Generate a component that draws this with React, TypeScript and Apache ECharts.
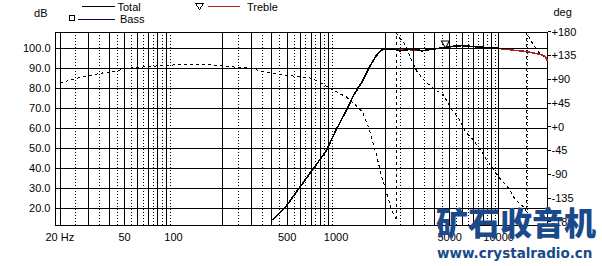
import React, { useEffect, useRef } from 'react';
import * as echarts from 'echarts';

// ---- Data ----
const TOTAL_FREQ = [406, 491, 593, 716, 865, 1000, 1147, 1289, 1450, 1594, 1753, 1880, 1969, 2150, 2322, 2450, 2600, 2805, 3100, 3384, 3700, 4081, 4710, 5151, 5930, 7529, 9530, 10000];
const TOTAL_DB = [14.2, 20.8, 30, 39.2, 48.3, 59, 68.3, 76.7, 83.3, 90, 95.8, 98.6, 99.6, 99.5, 99.2, 98.6, 98.8, 99.2, 99.3, 98.6, 99.1, 99.6, 100.3, 100.8, 101.2, 100.5, 100.0, 99.9];

const TREBLE_FREQ = [1969, 2322, 2805, 3384, 4081, 4710, 5930, 7529, 9530, 11500, 14600, 17600, 19300, 20000];
const TREBLE_DB = [99.6, 99.2, 99.2, 98.6, 99.6, 100.3, 101.2, 100.5, 100.0, 99.2, 98.3, 97.0, 96.0, 93.5];
const TREBLE_MARK_INDEX = 5;

const BASS_FREQ: number[] = [];
const BASS_DB: number[] = [];

const PHASE_FREQ = [20, 23, 27.7, 35.2, 44.7, 51.5, 61.8, 82, 120, 173, 221, 301, 352, 447, 593, 712, 820, 881, 1000, 1152, 1321, 1450, 1593, 1752, 1923, 2064, 2215, 2323, 2350, 2356, 2400, 2678, 2873, 3154, 3551, 4089, 4600, 5058, 5689, 6250, 6861, 7728, 8441, 10000, 11510, 12650, 14580, 14850, 14900, 15940, 17590, 18900, 20000];
const PHASE_DEG = [82, 88.5, 94.7, 101, 105.5, 110.6, 112.5, 115.6, 118.2, 117, 113.7, 110.6, 104, 99, 94.7, 91.7, 82, 75.8, 66.3, 56.8, 41, 28.4, -3, -47.4, -97.8, -129.5, -161, -173.6, -178, 178, 172, 154.8, 129.6, 104, 85.3, 69.5, 60, 35.4, 16, -9.5, -22, -44, -63, -94.8, -116, -138, -155, -162, 178, 161, 142, 132.6, 128];

const X_LABELS = [20, 50, 100, 500, 1000, 5000, 10000];
const DB_TICKS = [20, 30, 40, 50, 60, 70, 80, 90, 100];
const LEGEND_NAMES = ['Total', 'Bass', 'Treble'];

// grid line frequencies: solid at 2..9 x decade, dotted at half steps
const MAJOR_FREQ: number[] = [];
const MINOR_FREQ: number[] = [];
[10, 100, 1000].forEach((d) => {
  for (let m = 2; m <= 9; m++) MAJOR_FREQ.push(m * d);
  for (let m = 2; m <= 9; m++) MINOR_FREQ.push((m + 0.5) * d);
});
MAJOR_FREQ.push(10000);
MINOR_FREQ.push(15000);

const COLORS = { total: '#000000', bass: '#000080', treble: '#b02020', mark: '#1a4a8a' };

const zip = (a: number[], b: number[]) => a.map((v, i) => [v, b[i]]);

export default function App() {
  const ref = useRef<HTMLDivElement>(null);
  useEffect(() => {
    if (!ref.current) return;
    const chart = echarts.init(ref.current, undefined, { renderer: 'svg' });
    const FONT = 'Liberation Sans, Arial, sans-serif';
    const solid = { type: 'solid', color: '#000', width: 1 };
    const dotted = { type: [1, 2], color: '#000', width: 1 };
    const gridLines = [
      ...MAJOR_FREQ.map((f) => ({ xAxis: f, lineStyle: solid })),
      ...MINOR_FREQ.map((f) => ({ xAxis: f, lineStyle: dotted })),
      ...DB_TICKS.map((v) => ({ yAxis: v, lineStyle: solid })),
    ];
    const legText = (text: string, x: number, y: number) => ({
      type: 'text', x, y, silent: true,
      style: { text, fill: '#000', fontSize: 11, fontFamily: FONT, verticalAlign: 'middle', align: 'left' },
    });
    const legLine = (x1: number, x2: number, y: number, color: string) => ({
      type: 'line', silent: true, shape: { x1, y1: y, x2, y2: y }, style: { stroke: color, lineWidth: 1 },
    });
    const option: any = {
      animation: false,
      backgroundColor: '#fff',
      textStyle: { fontFamily: FONT, fontSize: 11, color: '#000' },
      grid: [
        { left: 55.5, width: 492, top: 32, height: 193.3, show: true, borderColor: '#000', borderWidth: 1, backgroundColor: '#fff' },
        { left: 55.5, width: 492, top: 31.7, height: 190, show: false },
      ],
      xAxis: [
        {
          type: 'log', gridIndex: 0, logBase: 10, min: 18.8, max: 20000,
          axisLine: { show: false }, axisTick: { show: false }, splitLine: { show: false },
          axisLabel: {
            customValues: X_LABELS, margin: 6, color: '#000', fontSize: 11, fontFamily: FONT,
            formatter: (v: number) => { const r = Math.round(v); return r === 20 ? '20 Hz' : String(r); },
          },
        },
        { type: 'log', gridIndex: 1, logBase: 10, min: 18.8, max: 20000, show: false },
      ],
      yAxis: [
        {
          type: 'value', gridIndex: 0, min: 11.5, max: 108,
          name: 'dB', nameLocation: 'end', nameGap: 19,
          nameTextStyle: { align: 'right', verticalAlign: 'middle', padding: [0, 8, 0, 0], color: '#000', fontSize: 11, fontFamily: FONT },
          axisLine: { show: false }, axisTick: { show: false }, splitLine: { show: false },
          axisLabel: { customValues: DB_TICKS, margin: 5, color: '#000', fontSize: 11, fontFamily: FONT, formatter: (v: number) => v.toFixed(1) },
        },
        {
          type: 'value', gridIndex: 1, position: 'right', min: -180, max: 180, interval: 45,
          name: 'deg', nameLocation: 'end', nameGap: 20,
          nameTextStyle: { align: 'left', verticalAlign: 'middle', padding: [0, 0, 0, 6], color: '#000', fontSize: 11, fontFamily: FONT },
          axisLine: { show: false }, axisTick: { show: true, length: 3, lineStyle: { color: '#000' } }, splitLine: { show: false },
          axisLabel: { margin: 4, color: '#000', fontSize: 11, fontFamily: FONT, formatter: (v: number) => (v >= 0 ? '+' + v : String(v)) },
        },
      ],
      series: [
        {
          name: '_grid', type: 'line', xAxisIndex: 0, yAxisIndex: 0, z: 1, silent: true,
          data: [[1000, 50]], symbol: 'none', lineStyle: { opacity: 0 },
          markLine: { silent: true, symbol: ['none', 'none'], label: { show: false }, lineStyle: solid, emphasis: { disabled: true }, data: gridLines },
        },
        {
          name: 'Phase', type: 'line', xAxisIndex: 1, yAxisIndex: 1, z: 2,
          data: zip(PHASE_FREQ, PHASE_DEG), symbol: 'none',
          lineStyle: { color: '#000', width: 1, type: [3, 3] },
        },
        {
          name: 'Bass', type: 'line', xAxisIndex: 0, yAxisIndex: 0, z: 3,
          data: zip(BASS_FREQ, BASS_DB), symbol: 'none',
          itemStyle: { color: COLORS.bass }, lineStyle: { color: COLORS.bass, width: 1.5 },
        },
        {
          name: 'Treble', type: 'line', xAxisIndex: 0, yAxisIndex: 0, z: 3,
          data: zip(TREBLE_FREQ, TREBLE_DB), symbol: 'none',
          itemStyle: { color: COLORS.treble }, lineStyle: { color: COLORS.treble, width: 1.5 },
          markPoint: {
            silent: true, symbol: 'triangle', symbolSize: [8, 7], symbolRotate: 180, symbolOffset: [0, -3],
            itemStyle: { color: '#fff', borderColor: '#000', borderWidth: 1 }, label: { show: false },
            data: [{ coord: [TREBLE_FREQ[TREBLE_MARK_INDEX], TREBLE_DB[TREBLE_MARK_INDEX]] }],
          },
        },
        {
          name: 'Total', type: 'line', xAxisIndex: 0, yAxisIndex: 0, z: 4,
          data: zip(TOTAL_FREQ, TOTAL_DB), symbol: 'none',
          itemStyle: { color: COLORS.total }, lineStyle: { color: COLORS.total, width: 1.6 },
        },
      ],
      graphic: [
        // legend block
        legLine(82, 115, 6.5, COLORS.total),
        legText(LEGEND_NAMES[0], 117.5, 6.5),
        { type: 'rect', silent: true, shape: { x: 69.5, y: 15.5, width: 5, height: 5 }, style: { fill: 'none', stroke: '#000', lineWidth: 1 } },
        legLine(78, 115, 19.5, COLORS.bass),
        legText(LEGEND_NAMES[1], 120, 18.5),
        { type: 'polygon', silent: true, shape: { points: [[195.5, 3.5], [203.5, 3.5], [199.5, 9.5]] }, style: { fill: 'none', stroke: '#000', lineWidth: 1 } },
        legLine(208, 240, 6.5, COLORS.treble),
        legText(LEGEND_NAMES[2], 247, 6.5),
        // watermark
        {
          type: 'text', x: 436, y: 205, z: 100, silent: true,
          style: { text: '矿石收音机', fill: COLORS.mark, fontSize: 32, fontWeight: 900, fontFamily: '"Noto Sans CJK SC"', verticalAlign: 'top' },
        },
        {
          type: 'text', x: 437, y: 246, z: 100, silent: true,
          style: { text: 'www.crystalradio.cn', fill: COLORS.mark, fontSize: 13.5, fontWeight: 'bold', fontFamily: '"DejaVu Sans"', verticalAlign: 'top' },
        },
      ],
    };
    chart.setOption(option);
    return () => chart.dispose();
  }, []);
  return (
    <>
      <style>{'.chart-host svg path { shape-rendering: crispEdges; }'}</style>
      <div className="chart-host" ref={ref} style={{ position: 'fixed', left: 0, top: 0, width: 602, height: 266, background: '#fff' }} />
    </>
  );
}
